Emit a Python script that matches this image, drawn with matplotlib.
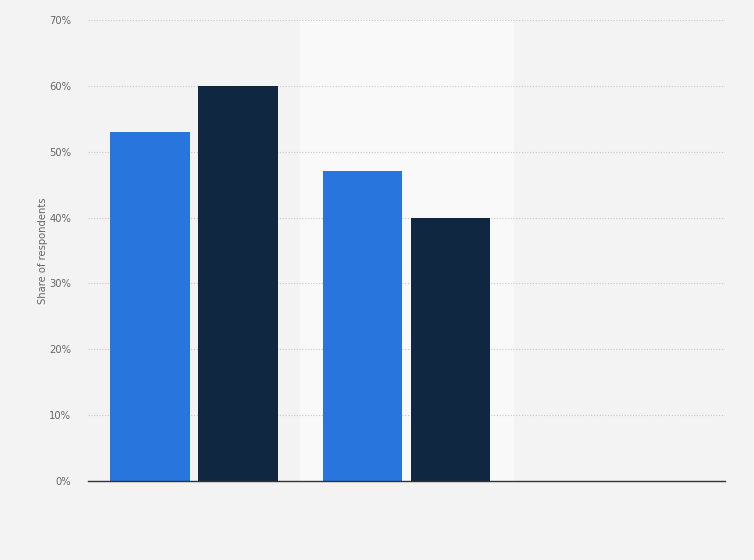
import numpy as np
import matplotlib
matplotlib.use("Agg")
import matplotlib.pyplot as plt
from matplotlib.ticker import FuncFormatter

# data (third group has no values)
categories = ["", "", ""]
series_a = [53, 47, np.nan]
series_b = [60, 40, np.nan]
yticks = [0, 10, 20, 30, 40, 50, 60, 70]

fig = plt.figure(figsize=(7.54, 5.6), dpi=100)
fig.patch.set_facecolor("#f3f3f3")
ax = fig.add_axes([88 / 754, 1 - 481 / 560, 637 / 754, 461 / 560])
ax.set_facecolor("#f3f3f3")

x = np.arange(len(categories))
width = 0.376
offset = 0.207

# lighter band behind every second group
for i in x:
    if i % 2 == 1:
        ax.axvspan(i - 0.5, i + 0.5, color="#f9f9f9", zorder=0)

ax.bar(x - offset, series_a, width, color="#2876dd", zorder=3)
ax.bar(x + offset, series_b, width, color="#0f2740", zorder=3)

ax.set_xlim(-0.5, len(categories) - 0.5)
ax.set_ylim(0, 70)
ax.set_yticks(yticks)
ax.yaxis.set_major_formatter(FuncFormatter(lambda v, p: f"{v:.0f}%"))
ax.set_xticks(x)
ax.set_xticklabels(categories)
ax.tick_params(axis="x", length=0)
ax.tick_params(axis="y", length=0, labelsize=7.2, labelcolor="#666666", pad=12)

ax.grid(axis="y", color="#c8c8c8", linestyle=(0, (1, 1.5)), linewidth=0.8, zorder=1)
for s in ["top", "right", "left"]:
    ax.spines[s].set_visible(False)
ax.spines["bottom"].set_color("#333333")
ax.spines["bottom"].set_linewidth(1.0)
ax.spines["bottom"].set_zorder(4)

ax.set_ylabel("Share of respondents", fontsize=7.2, color="#666666", labelpad=1)

fig.savefig("out.png", dpi=100, facecolor=fig.get_facecolor())
